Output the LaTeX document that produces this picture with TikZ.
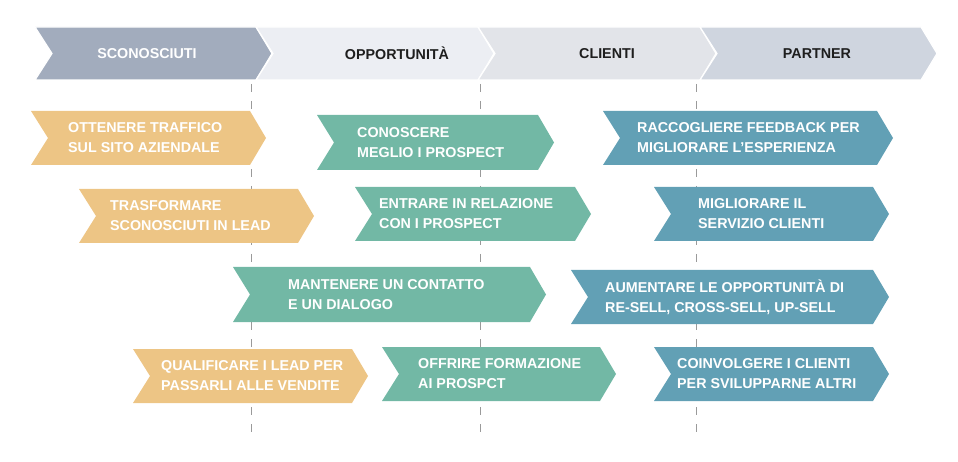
\documentclass[tikz,border=0pt]{standalone}
\usepackage{fontspec}
\setmainfont{Liberation Sans}
\definecolor{cyel}{HTML}{EDC585}
\definecolor{cgrn}{HTML}{72B8A5}
\definecolor{cblu}{HTML}{62A0B5}
\definecolor{hA}{HTML}{A2ACBD}
\definecolor{hB}{HTML}{ECEEF3}
\definecolor{hC}{HTML}{E2E4E9}
\definecolor{hD}{HTML}{CFD5DF}
\definecolor{htxt}{HTML}{1E1E1E}
\definecolor{dgray}{HTML}{9A9A9A}
\newcommand{\chevshape}[6]{% xl, yt, xs, yb, color, extra
  \fill[#5,#6] (#1,#2) -- (#3,#2) -- ({#3+16},{(#2+#4)/2}) -- (#3,#4) -- (#1,#4) -- ({#1+17},{(#2+#4)/2}) -- cycle;}
\tikzset{
  boxtxt/.style={anchor=west, align=left, text=white, font=\fontsize{14.3}{20}\selectfont\bfseries, inner sep=0pt},
  headtxt/.style={anchor=center, font=\fontsize{14.3}{16}\selectfont\bfseries, inner sep=0pt},
  guide/.style={draw=dgray, line width=1pt, dash pattern=on 8pt off 9pt}
}
\begin{document}
\begin{tikzpicture}[x=1pt,y=-1pt]
\useasboundingbox (0,0) rectangle (958,462);
% guide lines
\coordinate (g1a) at (251,84); \coordinate (g1b) at (251,437);
\coordinate (g2a) at (480,84); \coordinate (g2b) at (480,437);
\coordinate (g3a) at (696,84); \coordinate (g3b) at (696,437);
\draw[guide] (g1a) -- (g1b);
\draw[guide] (g2a) -- (g2b);
\draw[guide] (g3a) -- (g3b);
% header chevrons
\chevshape{35}{27}{256}{80}{hA}{draw=white,line width=1.2pt}
\chevshape{256}{27}{478}{80}{hB}{draw=white,line width=1.2pt}
\chevshape{478}{27}{700}{80}{hC}{draw=white,line width=1.2pt}
\chevshape{700}{27}{921}{80}{hD}{draw=white,line width=1.2pt}
\node[headtxt, text=white] (h1) at (147,53.5) {SCONOSCIUTI};
\node[headtxt, text=htxt] (h2) at (397,53.5) {OPPORTUNITÀ};
\node[headtxt, text=htxt] (h3) at (607,53.5) {CLIENTI};
\node[headtxt, text=htxt] (h4) at (817,53.5) {PARTNER};
% row 1
\chevshape{31}{111}{250}{165}{cyel}{}
\node[boxtxt] (y1) at (68,138) {OTTENERE TRAFFICO\\SUL SITO AZIENDALE};
\chevshape{317}{115}{538}{170}{cgrn}{}
\node[boxtxt] (gA) at (357,142.5) {CONOSCERE\\MEGLIO I PROSPECT};
\chevshape{603}{111}{877}{165}{cblu}{}
\node[boxtxt] (b1) at (637,138) {RACCOGLIERE FEEDBACK PER\\MIGLIORARE L’ESPERIENZA};
% row 2
\chevshape{79}{189}{298}{243}{cyel}{}
\node[boxtxt] (y2) at (110,216) {TRASFORMARE\\SCONOSCIUTI IN LEAD};
\chevshape{355}{187}{575}{241}{cgrn}{}
\node[boxtxt] (gB) at (379,214) {ENTRARE IN RELAZIONE\\CON I PROSPECT};
\chevshape{654}{187}{873}{241}{cblu}{}
\node[boxtxt] (b2) at (698,214) {MIGLIORARE IL\\SERVIZIO CLIENTI};
% row 3
\chevshape{233}{267}{530}{322}{cgrn}{}
\node[boxtxt] (gC) at (288,294.5) {MANTENERE UN CONTATTO\\E UN DIALOGO};
\chevshape{571}{270}{873}{324}{cblu}{}
\node[boxtxt] (b3) at (605,297) {AUMENTARE LE OPPORTUNITÀ DI\\RE-SELL, CROSS-SELL, UP-SELL};
% row 4
\chevshape{133}{349}{352}{403}{cyel}{}
\node[boxtxt] (y3) at (161,376) {QUALIFICARE I LEAD PER\\PASSARLI ALLE VENDITE};
\chevshape{382}{347}{600}{401}{cgrn}{}
\node[boxtxt] (gD) at (418,374) {OFFRIRE FORMAZIONE\\AI PROSPCT};
\chevshape{654}{347}{873}{401}{cblu}{}
\node[boxtxt] (b4) at (677,374) {COINVOLGERE I CLIENTI\\PER SVILUPPARNE ALTRI};
\end{tikzpicture}
\end{document}
